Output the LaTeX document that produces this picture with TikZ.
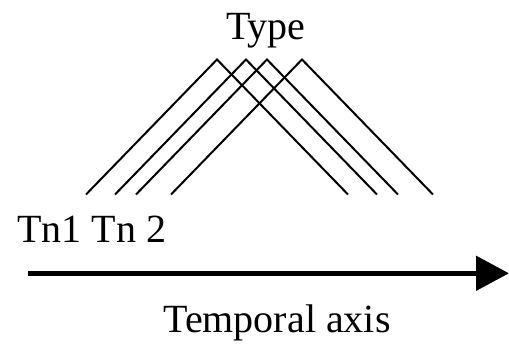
\documentclass[tikz,border=0pt]{standalone}
\usepackage{fontspec}
\setmainfont{Liberation Serif}
\usepackage{tikz}
\usetikzlibrary{arrows.meta}

\begin{document}
\begin{tikzpicture}[x=1pt, y=1pt, font=\fontsize{40}{44}\selectfont]
    \useasboundingbox (0, 0) rectangle (509, 346);

    \node[anchor=base, inner sep=0] at (266, 306) (type) {Type};
    \node[anchor=base west, inner sep=0] at (17, 104) (tn) {Tn1 Tn 2};
    \node[anchor=base, inner sep=0] at (277, 14) (axis) {Temporal axis};

    \foreach \px in {217, 246, 267, 302} {
        \draw[line width=2pt] (\px - 131, 151.5) -- (\px, 286.5) -- (\px + 131, 151.5);
    }

    \coordinate (start) at (28, 72.7);
    \coordinate (end) at (509, 72.7);
    \draw[line width=5pt, -{Triangle[length=33pt, width=34pt]}] (start) -- (end);
\end{tikzpicture}
\end{document}
